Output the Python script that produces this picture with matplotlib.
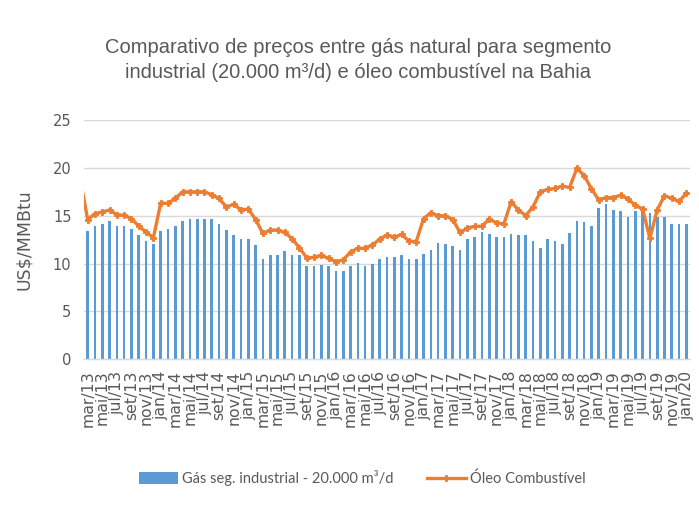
import numpy as np
import matplotlib
matplotlib.use("Agg")
import matplotlib.pyplot as plt
from matplotlib.lines import Line2D
from matplotlib.patches import Patch

# Monthly categories, mar/2013 .. jan/2020
month_abbr = ["jan", "fev", "mar", "abr", "mai", "jun",
              "jul", "ago", "set", "out", "nov", "dez"]
start_year, start_month, n_months = 2013, 3, 83
categories = [
    f"{month_abbr[(start_month - 1 + k) % 12]}/{(start_year + (start_month - 1 + k) // 12) % 100:02d}"
    for k in range(n_months)
]

# Natural gas price, industrial segment (US$/MMBtu)
gas_industrial = [
    13.4, 13.9, 14.15, 14.5, 13.9, 13.9, 13.6, 13.0, 12.4, 12.0,
    13.4, 13.6, 13.9, 14.5, 14.7, 14.7, 14.7, 14.7, 14.15, 13.5,
    13.0, 12.6, 12.6, 11.9, 10.5, 10.9, 10.9, 11.3, 10.9, 10.9,
    9.75, 9.75, 9.9, 9.75, 9.2, 9.2, 9.75, 10.1, 9.75, 9.95,
    10.5, 10.7, 10.7, 10.9, 10.5, 10.5, 11.05, 11.4, 12.2, 12.0,
    11.8, 11.45, 12.55, 12.75, 13.35, 13.1, 12.75, 12.75, 13.1, 12.95,
    12.95, 12.4, 11.6, 12.55, 12.4, 12.0, 13.2, 14.5, 14.3, 13.9,
    15.85, 16.2, 15.6, 15.45, 14.9, 15.45, 15.8, 15.25, 14.9, 14.9,
    14.1, 14.1, 14.1,
]

# Fuel oil price (US$/MMBtu); the series starts one month earlier (fev/13)
oil_prev_month = 18.8
fuel_oil = [
    14.6, 15.2, 15.4, 15.6, 15.1, 15.05, 14.7, 13.9, 13.3, 12.7,
    16.3, 16.3, 16.8, 17.5, 17.5, 17.5, 17.5, 17.2, 16.8, 15.9,
    16.2, 15.6, 15.7, 14.6, 13.15, 13.5, 13.5, 13.25, 12.6, 11.65,
    10.6, 10.65, 10.85, 10.55, 10.2, 10.4, 11.2, 11.6, 11.6, 11.95,
    12.55, 13.0, 12.75, 13.05, 12.35, 12.3, 14.7, 15.3, 15.0, 15.0,
    14.6, 13.25, 13.7, 13.9, 13.9, 14.65, 14.25, 14.15, 16.45, 15.6,
    15.0, 15.95, 17.5, 17.75, 17.85, 18.1, 17.95, 19.95, 19.2, 17.8,
    16.65, 16.9, 16.9, 17.15, 16.75, 16.1, 15.7, 12.65, 15.6, 17.1,
    16.8, 16.5, 17.35,
]

title_text = ("Comparativo de preços entre gás natural para segmento\n"
              "industrial (20.000 m³/d) e óleo combustível na Bahia")
y_label = "US$/MMBtu"
gas_label = "Gás seg. industrial - 20.000 m³/d"
oil_label = "Óleo Combustível"

BLUE = "#5B9BD5"
ORANGE = "#ED7D31"
GREY_TEXT = "#595959"
GRID = "#D9D9D9"

fig = plt.figure(figsize=(6.99, 5.07), dpi=100)
ax = fig.add_axes([0.1202, 0.2913, 0.867, 0.472])

x = np.arange(len(categories))
ax.bar(x, gas_industrial, width=0.36, color=BLUE, zorder=2)

x_oil = np.arange(-1, len(fuel_oil))
ax.plot(x_oil, [oil_prev_month] + fuel_oil, color=ORANGE, lw=2.4,
        marker="P", ms=4, mec=ORANGE, mfc=ORANGE, mew=0.6,
        zorder=3, clip_on=True)

ax.set_xlim(-0.5, len(categories) - 0.5)
ax.set_ylim(0, 25)
ax.set_yticks(np.arange(0, 26, 5))
ax.yaxis.grid(True, color=GRID, lw=1.0, zorder=0)
ax.set_axisbelow(True)

for side in ("top", "right", "left"):
    ax.spines[side].set_visible(False)
ax.spines["bottom"].set_color(GRID)
ax.spines["bottom"].set_linewidth(1.0)

ax.set_xticks(x[::2])
ax.set_xticklabels(categories[::2], rotation=90, fontsize=11.3,
                   color=GREY_TEXT, family="DejaVu Sans")
ax.tick_params(axis="x", length=0, pad=8)
ax.tick_params(axis="y", length=0, pad=9, labelsize=10.5, labelcolor=GREY_TEXT)

ax.set_ylabel(y_label, fontsize=12.5, color=GREY_TEXT, labelpad=14,
              family="DejaVu Sans")

fig.text(0.512, 0.882, title_text, ha="center", va="center",
         fontsize=14.5, color=GREY_TEXT, linespacing=1.4,
         family=["Liberation Sans Narrow", "Liberation Sans", "DejaVu Sans"])

handles = [
    Patch(facecolor=BLUE, edgecolor="none"),
    Line2D([0], [0], color=ORANGE, lw=2.4, marker="P", ms=4, mew=0.6),
]
fig.legend(handles, [gas_label, oil_label], loc="center",
           bbox_to_anchor=(0.518, 0.057), ncol=2, frameon=False,
           handlelength=2.7, handleheight=0.8, handletextpad=0.25,
           columnspacing=2.3,
           prop={"family": ["Lato", "DejaVu Sans"], "size": 10.5},
           labelcolor=GREY_TEXT)

fig.savefig("out.png", dpi=100)
